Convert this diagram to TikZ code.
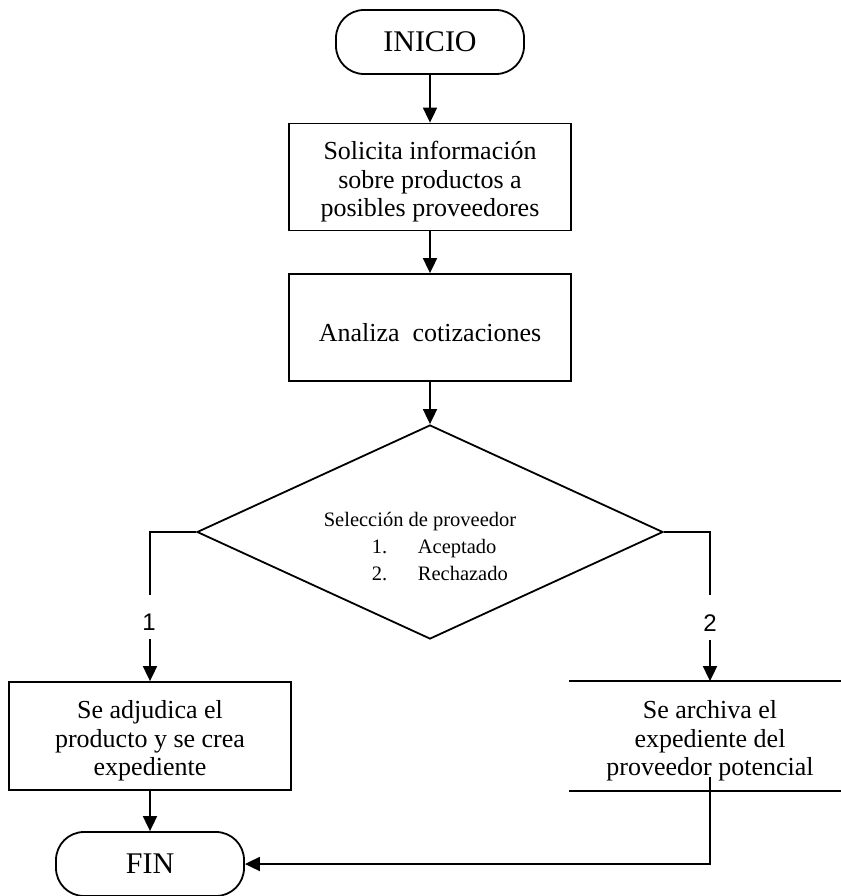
\documentclass[tikz,border=0pt]{standalone}
\usepackage{fontspec}
\setmainfont{Liberation Serif}
\newfontfamily\labelfont{Liberation Sans}
\usetikzlibrary{arrows.meta,shapes.geometric}
% extra room above the first line of a box text
\newcommand{\topgap}{\rule{0pt}{28pt}}

\begin{document}
\begin{tikzpicture}[x=1pt,y=-1pt,
  line width=1.8pt,
  flow/.style={-{Triangle[length=15pt,width=14pt]}},
  terminal/.style={draw,rounded corners=28pt,minimum width=188pt,minimum height=64pt,
    inner sep=0pt,font=\fontsize{30}{34}\selectfont},
  process/.style={draw,minimum width=282pt,minimum height=107pt,inner sep=0pt,
    align=center,font=\fontsize{26}{28.5}\selectfont},
  openbox/.style={minimum width=280pt,minimum height=108pt,inner sep=0pt,
    align=center,font=\fontsize{26}{28.5}\selectfont},
  decision/.style={draw,diamond,minimum width=466pt,minimum height=214pt,inner sep=0pt},
  dectext/.style={inner sep=0pt,font=\fontsize{20.5}{27}\selectfont},
  numlbl/.style={inner sep=0pt,font=\labelfont\fontsize{24}{26}\selectfont}
]
\useasboundingbox (0,0) rectangle (840,896);

% terminals and process steps
\node[terminal] (ini) at (430,42) {INICIO};
\node[process] (s1) at (430,177) {\topgap Solicita información\\sobre productos a\\posibles proveedores};
\node[process] (s2) at (430,327.5) {\topgap Analiza\ \ cotizaciones};

% decision
\node[decision] (dec) at (430,532) {};
\node[dectext] (dtitle) at (420,522) {Selección de proveedor};
\node[dectext,anchor=west,align=left] (dopts) at (371,560)
  {\makebox[46pt][l]{1.}Aceptado\\\makebox[46pt][l]{2.}Rechazado};

% outcomes
\node[process,minimum height=108pt] (lb) at (150,736) {\topgap Se adjudica el\\producto y se crea\\expediente};
\node[openbox] (rb) at (710,736) {\topgap Se archiva el\\expediente del\\proveedor potencial};
\draw (rb.north west) -- (rb.north east);
\draw (rb.south west) -- (rb.south east);

\node[terminal] (fin) at (150,864) {FIN};

% main flow
\draw[flow] (ini) -- (s1);
\draw[flow] (s1) -- (s2);
\draw[flow] (s2) -- (dec);

% branch 1
\coordinate (g1a) at (150,595);
\coordinate (g1b) at (150,639);
\draw (dec.west) -| (g1a);
\draw[flow] (g1b) -- (lb.north);
\node[numlbl] (n1) at (149,622) {1};

% branch 2
\coordinate (g2a) at (710,595);
\coordinate (g2b) at (710,640);
\draw (dec.east) -| (g2a);
\draw[flow] (g2b) -- (rb.north);
\node[numlbl] (n2) at (710,623) {2};

% to the end
\draw[flow] (lb) -- (fin);
\coordinate (rs) at (710,777);
\draw[flow] (rs) |- (fin.east);
\end{tikzpicture}
\end{document}
